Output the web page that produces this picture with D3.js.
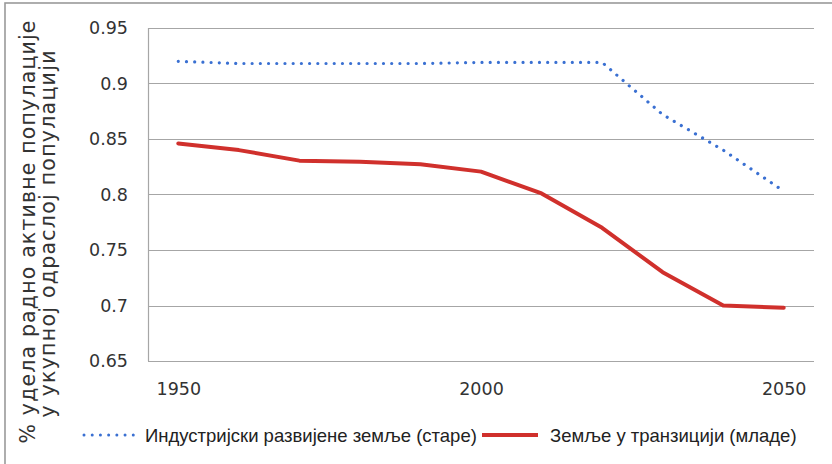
<!DOCTYPE html>
<html>
<head>
<meta charset="utf-8">
<script src="https://cdn.jsdelivr.net/npm/d3@7"></script>
<style>
  html, body { margin: 0; padding: 0; background: #fff; }
  svg { display: block; }
</style>
</head>
<body>
<svg id="chart" width="832" height="464"></svg>
<script>
const years = [1950, 1960, 1970, 1980, 1990, 2000, 2010, 2020, 2030, 2040, 2050];
const xTickLabels = [1950, 2000, 2050];
const yTicks = [0.65, 0.7, 0.75, 0.8, 0.85, 0.9, 0.95];
const seriesNames = ["Индустријски развијене земље (старе)", "Земље у транзицији (младе)"];
const developed = [0.920, 0.918, 0.918, 0.918, 0.918, 0.919, 0.919, 0.919, 0.872, 0.840, 0.803];
const transition = [0.846, 0.840, 0.8305, 0.8296, 0.8272, 0.8206, 0.801, 0.770, 0.730, 0.700, 0.698];
const yLabelLines = ["% удела радно активне популације", "у укупној одраслој популацији"];

const svg = d3.select("#chart");
const W = 832, H = 464;
const margin = {left: 148, top: 28, right: 18, bottom: 103};
const pw = W - margin.left - margin.right;
const ph = H - margin.top - margin.bottom;

// outer border
svg.append("rect")
  .attr("x", 5).attr("y", 3)
  .attr("width", W + 20).attr("height", H + 20)
  .attr("fill", "none").attr("stroke", "#9a9a9a").attr("stroke-width", 1.6);

const g = svg.append("g").attr("transform", `translate(${margin.left},${margin.top})`);

const x = d3.scalePoint().domain(years).range([0, pw]).padding(0.5);
const y = d3.scaleLinear().domain([0.65, 0.95]).range([ph, 0]);

// gridlines
g.append("g").selectAll("line").data(yTicks).join("line")
  .attr("x1", 0).attr("x2", pw)
  .attr("y1", d => Math.round(y(d)) + 0.5).attr("y2", d => Math.round(y(d)) + 0.5)
  .attr("stroke", "#a6a6a6").attr("stroke-width", 1.2);

// left axis line
g.append("line").attr("x1", 0.5).attr("x2", 0.5).attr("y1", 0).attr("y2", ph)
  .attr("stroke", "#a6a6a6").attr("stroke-width", 1.2);

// y axis labels
const yAxis = d3.axisLeft(y).tickValues(yTicks).tickSize(0).tickPadding(20)
  .tickFormat(d => String(+d.toFixed(2)));
const ya = g.append("g").call(yAxis);
ya.select(".domain").remove();
ya.selectAll("text").attr("font-family", "DejaVu Sans").attr("font-size", 17.5).attr("fill", "#333");

// x axis labels
const xAxis = d3.axisBottom(x).tickValues(xTickLabels).tickSize(0).tickPadding(22);
const xa = g.append("g").attr("transform", `translate(0,${ph})`).call(xAxis);
xa.select(".domain").remove();
xa.selectAll("text").attr("font-family", "DejaVu Sans").attr("font-size", 17.5).attr("fill", "#333");

// lines
const line = d3.line().x((d, i) => x(years[i])).y(d => y(d));
g.append("path").datum(transition).attr("d", line)
  .attr("fill", "none").attr("stroke", "#d0302c").attr("stroke-width", 4)
  .attr("stroke-linejoin", "round").attr("stroke-linecap", "round");
g.append("path").datum(developed).attr("d", line)
  .attr("fill", "none").attr("stroke", "#3a70d2").attr("stroke-width", 3.2)
  .attr("stroke-dasharray", "0.01 8.2").attr("stroke-linecap", "round");

// y label
const yl = svg.append("text")
  .attr("transform", "translate(0,232) rotate(-90)")
  .attr("text-anchor", "middle")
  .attr("font-family", "DejaVu Sans").attr("font-size", 20.5).attr("fill", "#333");
yl.append("tspan").attr("x", 0).attr("y", 35).attr("textLength", 423).attr("lengthAdjust", "spacing").text(yLabelLines[0]);
yl.append("tspan").attr("x", -2).attr("y", 55).attr("textLength", 367).attr("lengthAdjust", "spacing").text(yLabelLines[1]);

// legend
const lg = svg.append("g");
lg.append("line").attr("x1", 84).attr("x2", 134).attr("y1", 435).attr("y2", 435)
  .attr("stroke", "#3a70d2").attr("stroke-width", 3).attr("stroke-dasharray", "0.01 8.2").attr("stroke-linecap", "round");
lg.append("text").attr("x", 145).attr("y", 442).attr("font-family", "Liberation Sans").attr("font-size", 18.5).attr("fill", "#222").text(seriesNames[0]);
lg.append("line").attr("x1", 482).attr("x2", 538).attr("y1", 435).attr("y2", 435)
  .attr("stroke", "#d0302c").attr("stroke-width", 4);
lg.append("text").attr("x", 550).attr("y", 442).attr("font-family", "Liberation Sans").attr("font-size", 18.5).attr("fill", "#222").text(seriesNames[1]);
</script>
</body>
</html>
